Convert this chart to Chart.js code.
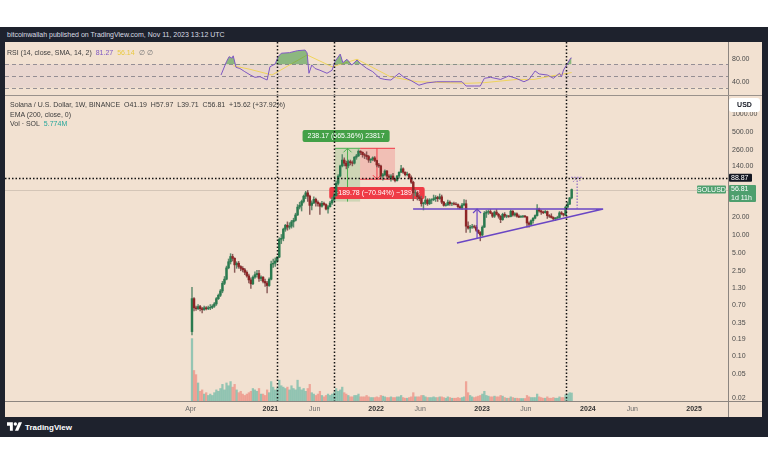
<!DOCTYPE html>
<html>
<head>
<meta charset="utf-8">
<title>SOLUSD 1W</title>
<script src="https://cdn.jsdelivr.net/npm/chart.js@4.4.1/dist/chart.umd.min.js"></script>
<style>
  html, body { margin: 0; padding: 0; background: #ffffff; }
  body { width: 768px; height: 463px; position: relative; overflow: hidden; font-family: "Liberation Sans", Arial, sans-serif; }
  .abs { position: absolute; }
  #frame { left: 0; top: 27px; width: 768px; height: 410px; background: #1e222d; }
  #title { left: 7px; top: 30px; font-size: 7px; line-height: 10px; color: #d9dce3; white-space: nowrap; }
  #panel { left: 5px; top: 42px; width: 757px; height: 375px; background: #f2e1d1; }
  #sep { left: 5px; top: 95px; width: 757px; height: 1px; background: #9a928c; }
  #rsi { left: 5px; top: 42px; }
  #main { left: 5px; top: 96px; }
  .legend { font-size: 7px; line-height: 9px; color: #3c3c3c; white-space: nowrap; }
  #logo { left: 7px; top: 422px; color: #ffffff; font-size: 8px; font-weight: bold; white-space: nowrap; line-height: 10px; }
  #logo svg { vertical-align: -1px; margin-right: 3px; }
</style>
</head>
<body>
<div id="frame" class="abs"></div>
<div id="title" class="abs">bitcoinwallah published on TradingView.com, Nov 11, 2023 13:12 UTC</div>
<div id="panel" class="abs"></div>
<canvas id="rsi" class="abs" width="757" height="53"></canvas>
<div id="sep" class="abs"></div>
<canvas id="main" class="abs" width="757" height="321"></canvas>

<div class="abs legend" style="left:7px;top:48px;">RSI (14, close, SMA, 14, 2)&nbsp; <span style="color:#7e57c2">81.27</span>&nbsp; <span style="color:#e9c940">56.14</span>&nbsp; <span style="color:#777">∅</span>&nbsp;<span style="color:#777">∅</span></div>
<div class="abs legend" style="left:10px;top:100px;">Solana / U.S. Dollar, 1W, BINANCE&nbsp; O41.19&nbsp; H57.97&nbsp; L39.71&nbsp; C56.81&nbsp; +15.62 (+37.92%)</div>
<div class="abs legend" style="left:10px;top:110px;">EMA (200, close, 0)</div>
<div class="abs legend" style="left:10px;top:119px;">Vol · SOL&nbsp; <span style="color:#26a69a">5.774M</span></div>
<div id="logo" class="abs"><svg width="15" height="9" viewBox="0 0 36 20"><path d="M14 20H7V8H0V0h14z" fill="#fff"/><circle cx="20" cy="4" r="4" fill="#fff"/><path d="M28 0h8l-9 20h-8z" fill="#fff"/></svg>TradingView</div>

<script>
// weekly candles, week 0 = 6 Apr 2020, last = 6 Nov 2023
var opens = [
  0.25,0.88,0.62,0.60,0.65,0.60,0.58,0.62,0.60,0.62,0.63,0.66,0.72,0.88,1.00,1.18,1.58,1.85,2.85,3.60,4.40,4.10,3.20,3.40,3.00,2.80,2.65,2.40,2.10,1.80,1.55,2.00,2.20,2.30,1.90,2.00,1.70,1.60,1.45,
  1.85,3.30,3.40,3.70,4.30,8.50,8.80,12.5,14.5,13.5,14.0,16.5,17.5,21.5,29,31,36,44,50,44,31,34,39,35,33,30,33.5,32,27,29.5,34,38,45,72,95,140,175,155,140,165,158,155,195,205,245,235,215,210,200,175,180,190,
  172,145,140,95,100,115,95,90,95,85,80,95,110,125,110,100,102,90,75,50,50,43,40,33,34,38,33,38,38.5,40,42,40,43,35,31,31.5,35,33,33.2,32.5,32,29.5,28,31.5,33,14,13,13.5,13.8,13.5,12,11,
  10,13.5,23,24,24.5,23,20.5,24,22,20.5,18,22,20.5,20.8,20.3,24.8,21.5,22.5,20.5,19.8,20.3,20.6,20,15.8,15,17.3,19,21,27,25,24,23.5,24.5,21,20.5,19.5,18.5,19,19.5,23.3,22.5,21.5,29,32.5,41.19
];
var highs = [
  1.35,0.92,0.66,0.70,0.68,0.63,0.66,0.65,0.66,0.70,0.70,0.76,0.92,1.05,1.25,1.70,2.05,3.05,4.00,4.90,4.80,4.20,3.60,3.65,3.10,3.00,2.80,2.55,2.25,1.95,2.10,2.45,2.60,2.60,2.10,2.05,1.85,1.70,1.95,
  3.70,4.00,4.20,4.40,9.0,10.2,13.0,15.0,16.5,16.0,17.5,19.0,23.0,32,35,38,46,53,55,46,37,43,41,37,34,36,35,33,31,36,42,50,78,100,145,215,190,168,175,175,170,200,218,259,250,240,225,240,210,185,198,200,
  175,155,145,105,120,118,100,100,105,88,98,112,143,130,112,110,104,96,78,56,52,46,44,35,44,40,40,40,46,45,44,48,46,36,33.5,38,37,34.5,35,34.5,33,30.5,33.5,38.5,38,16.5,14.5,15,14.6,14.4,12.2,11.4,
  14.2,24.5,25.5,26,26.5,23.5,25,26.5,23,21,23,23.5,21.5,21,26,25.4,23.5,23.3,21.5,21,21.2,21.2,20.2,16.5,17.8,19.5,21.5,32,28,26,25,25.5,25,21.8,22.5,20,19.6,20.5,24.5,24.5,22.8,30,35,42,57.97
];
var lows = [
  0.22,0.55,0.56,0.58,0.55,0.51,0.56,0.57,0.58,0.58,0.60,0.63,0.68,0.85,0.95,1.10,1.50,1.80,2.75,3.30,3.70,2.40,2.80,2.80,2.55,2.45,2.20,2.00,1.60,1.30,1.50,1.90,2.00,1.70,1.75,1.60,1.40,1.10,1.40,
  1.80,2.90,3.00,3.50,4.20,7.20,8.00,11.5,12.0,12.5,13.0,13.5,17.0,21,27,25,34,40,36,22,26,33,30,30,22,29,31,26,23,29,32,37,44,68,92,135,140,125,130,145,140,150,180,200,215,195,185,180,160,158,170,165,
  135,132,88,81,95,90,84,78,82,76,78,88,108,105,95,95,85,72,37,45,38,37,30,26,32,31,32,33,37,36,36,39,33,30,30,31,31,30.5,31.5,31.5,27.5,27,26.5,30.5,11,12.5,11,12.8,13,11.5,10.5,8.0,
  9.6,13.3,19.5,22,22.5,19.5,19.5,21.5,19,16,17.5,19.5,19.3,19.6,20,20.5,20.5,19.8,19.3,19.5,19.3,19.5,13.5,13.5,14.6,15.7,18.5,20.5,24,22,22.5,23,18.8,19.5,19,17.5,17.3,18.8,19,21.5,20.5,21,28.5,32,39.71
];
var closes = [
  0.88,0.62,0.60,0.65,0.60,0.58,0.62,0.60,0.62,0.63,0.66,0.72,0.88,1.00,1.18,1.58,1.85,2.85,3.60,4.40,4.10,3.20,3.40,3.00,2.80,2.65,2.40,2.10,1.80,1.55,2.00,2.20,2.30,1.90,2.00,1.70,1.60,1.45,1.85,
  3.30,3.40,3.70,4.30,8.50,8.80,12.5,14.5,13.5,14.0,16.5,17.5,21.5,29,31,36,44,50,44,31,34,39,35,33,30,33.5,32,27,29.5,34,38,45,72,95,140,175,155,140,165,158,155,195,205,245,235,215,210,200,175,180,190,172,
  145,140,95,100,115,95,90,95,85,80,95,110,125,110,100,102,90,75,50,50,43,40,33,34,38,33,38,38.5,40,42,40,43,35,31,31.5,35,33,33.2,32.5,32,29.5,28,31.5,33,14,13,13.5,13.8,13.5,12,11,10,
  13.5,23,24,24.5,23,20.5,24,22,20.5,18,22,20.5,20.8,20.3,24.8,21.5,22.5,20.5,19.8,20.3,20.6,20,15.8,15,17.3,19,21,27,25,24,23.5,24.5,21,20.5,19.5,18.5,19,19.5,23.3,22.5,21.5,29,32.5,41.19,56.81
];
// volume, millions of SOL
var volumes = [
  45,22,19,13,7,8,5,6,4,5,4,6,8,7,9,12,8,13,11,14,10,12,8,6,7,5,4,5,6,7,9,8,7,9,5,5,4,8,6,
  14,10,8,9,15,11,10,9,10,8,11,9,8,15,10,8,9,7,9,12,6,5,4,5,7,4,3,4,5,4,5,6,9,7,8,10,6,5,4,3,3,4,4,5,3,3,3,4,3,2.5,2.5,2.5,
  3,2.5,4,3.5,3,2.5,2.5,3,2.5,2.5,3,3,4,2.5,2,2,2.5,3,6,3,3,3,4,4,3,2.5,2.5,2.5,3,2.5,2.5,3,3,2.5,2,3,2.5,2,2,2,2.5,2,2.5,3,14,6,4,3,2.5,3,3.5,4,
  5,7,4,3.5,3,3,3.5,3,3,4,3.5,2.5,2,2,3,2.5,2,2,1.8,1.8,1.8,1.8,4,3,2.5,2.5,2.5,5,3,2.5,2,2,3,2,2,2.5,2,2,3,2.5,2.5,4.5,5,6,5.774
];

// RSI pane (week index, value)
var rsiWeeks = [14.3,17,18.3,19.7,20.3,21.7,23.6,26,28.6,31,33.5,37,38.4,41,42.4,44,48,52,55.7,56.7,57.6,59,60.6,63,66.5,69,70.4,73,74.3,76.3,78.7,81.3,82.8,86,89,92.6,95,98,102,104.4,107.9,111.8,115.7,120.5,127.5,133,135,139,142,144,147,152,156,159.6,163.5,166,169,171,175,178,181,182,183,185,186.5,187];
var rsiValues = [51.7,75,83.6,80.8,85,65,63,57.5,52,47.7,48.8,43,66,71,83.6,89.5,90.5,94,95,90,54.7,69,63,60,54.7,60,75,88,73,79,69,77.8,72,63.4,57.5,46,44,43,54.7,47.7,42,34,38,40,40,40,32.6,32.6,32.6,46,47.7,44,50,46,40,44,58.7,53.5,51.7,46,54.7,48.8,60.4,72,81,81.27];
var smaWeeks = [20.3,28.6,39.4,56.7,69,81.3,97.5,111,135.5,144,160,168.5,177,183,187];
var smaValues = [67.8,61.6,51.7,86.5,66,79,49,40,37.3,38.4,44,44,50,53.5,56];
var rsiTicks = [80, 40];
var rsiLevels = [70, 50, 30];

// axes
var priceTicks = [1000, 500, 260, 140, 20, 10, 5, 2.5, 1.3, 0.7, 0.35, 0.19, 0.1, 0.05, 0.02];
var timeTickWeeks = [-0.7, 38.6, 60.4, 90.7, 112.4, 142.9, 164.4, 195, 216.9, 247.3];
var timeTickLabels = ['Apr', '2021', 'Jun', '2022', 'Jun', '2023', 'Jun', '2024', 'Jun', '2025'];
var markerWeeks = [42, 70, 184.3];
var crossPrice = 88.87;
var lastPrice = 56.81;

// drawings
var gainBox = { from: 70.4, to: 82.8, low: 35.8, high: 274, arrowAt: 76.6 };
var dropBox = { from: 82.8, to: 100, low: 84.2, high: 274, arrowAt: 91.1 };
var gainText = '238.17 (665.36%) 23817';
var dropText = '\u2212189.78 (\u221270.94%) \u221218978';
var gainTextAt = [75.9, 438];
var dropTextAt = [91.1, 49.7];
var resistance = { from: 108.9, to: 202.5, price: 27 };
var support = [[130.5, 7.37], [202.5, 27]];
var heightArrow = { week: 140.4, from: 8.9, to: 27 };
var target = { week: 189.7, from: 27, to: 88.87 };

var xMin = -92.1, xMax = 264;
var FONT = '"Liberation Sans", Arial, sans-serif';
var AXIS_LINE = '#8c8580';
var PURPLE = '#6a46c4';

Chart.defaults.font.family = FONT;
Chart.defaults.font.size = 7;
Chart.defaults.color = '#4a4a4a';

var isUp = closes.map(function (c, i) { return c >= opens[i]; });

function noPad(s) {
  s.paddingTop = 0; s.paddingBottom = 0; s.paddingLeft = 0; s.paddingRight = 0;
}

function dottedLine(ctx, x1, y1, x2, y2, color, width, dash) {
  ctx.save();
  ctx.strokeStyle = color;
  ctx.lineWidth = width;
  ctx.setLineDash(dash);
  ctx.beginPath(); ctx.moveTo(x1, y1); ctx.lineTo(x2, y2); ctx.stroke();
  ctx.restore();
}

function vArrow(ctx, x, y1, y2, color, head) {
  ctx.strokeStyle = color;
  ctx.beginPath(); ctx.moveTo(x, y1); ctx.lineTo(x, y2); ctx.stroke();
  var d = y2 < y1 ? 1 : -1;
  ctx.beginPath();
  ctx.moveTo(x - head, y2 + d * head); ctx.lineTo(x, y2); ctx.lineTo(x + head, y2 + d * head);
  ctx.stroke();
}

function box(ctx, x, y, w, h, r, color) {
  ctx.fillStyle = color;
  ctx.beginPath();
  if (ctx.roundRect) ctx.roundRect(x, y, w, h, r); else ctx.rect(x, y, w, h);
  ctx.fill();
}

function tag(ctx, text, cx, cy, bg) {
  ctx.font = '7px ' + FONT;
  var w = ctx.measureText(text).width + 10;
  box(ctx, cx - w / 2, cy - 6, w, 12, 2, bg);
  ctx.fillStyle = '#ffffff';
  ctx.textAlign = 'center';
  ctx.textBaseline = 'middle';
  ctx.fillText(text, cx, cy + 0.5);
}

var markers = {
  id: 'markers',
  afterDatasetsDraw: function (chart) {
    var a = chart.chartArea, x = chart.scales.x;
    markerWeeks.forEach(function (w) {
      var px = Math.round(x.getPixelForValue(w)) + 0.5;
      dottedLine(chart.ctx, px, a.top, px, a.bottom, '#111111', 1.5, [1.5, 2]);
    });
  }
};

var rsiBand = {
  id: 'rsiBand',
  beforeDatasetsDraw: function (chart) {
    var ctx = chart.ctx, a = chart.chartArea, y = chart.scales.y;
    var top = y.getPixelForValue(rsiLevels[0]), bottom = y.getPixelForValue(rsiLevels[2]);
    ctx.save();
    ctx.fillStyle = 'rgba(126,87,194,0.08)';
    ctx.fillRect(a.left, top, a.right - a.left, bottom - top);
    ctx.restore();
    rsiLevels.forEach(function (v) {
      var py = Math.round(y.getPixelForValue(v)) + 0.5;
      dottedLine(ctx, a.left, py, a.right, py, 'rgba(120,118,128,0.75)', 1, [4, 3]);
    });
  },
  afterDraw: function (chart) {
    var a = chart.chartArea, ctx = chart.ctx;
    ctx.save();
    ctx.strokeStyle = AXIS_LINE;
    ctx.lineWidth = 1;
    ctx.beginPath(); ctx.moveTo(a.right + 0.5, 0); ctx.lineTo(a.right + 0.5, chart.height); ctx.stroke();
    ctx.restore();
  }
};

var drawings = {
  id: 'drawings',
  beforeDatasetsDraw: function (chart) {
    var ctx = chart.ctx, a = chart.chartArea, x = chart.scales.x, y = chart.scales.y;
    ctx.save();
    // last price line
    var ly = Math.round(y.getPixelForValue(lastPrice)) + 0.5;
    ctx.strokeStyle = 'rgba(0,0,0,0.12)';
    ctx.lineWidth = 1;
    ctx.beginPath(); ctx.moveTo(a.left, ly); ctx.lineTo(a.right, ly); ctx.stroke();

    // gain measurement
    var gx1 = x.getPixelForValue(gainBox.from), gx2 = x.getPixelForValue(gainBox.to);
    var gy1 = y.getPixelForValue(gainBox.high), gy2 = y.getPixelForValue(gainBox.low);
    ctx.fillStyle = 'rgba(76,175,80,0.22)';
    ctx.fillRect(gx1, gy1, gx2 - gx1, gy2 - gy1);
    ctx.lineWidth = 1;
    ctx.strokeStyle = '#4caf50';
    ctx.beginPath(); ctx.moveTo(gx1, gy1); ctx.lineTo(gx2, gy1); ctx.stroke();
    vArrow(ctx, x.getPixelForValue(gainBox.arrowAt), gy2, gy1, '#4caf50', 4);

    // drop measurement
    var dx1 = x.getPixelForValue(dropBox.from), dx2 = x.getPixelForValue(dropBox.to);
    var dy1 = y.getPixelForValue(dropBox.high), dy2 = y.getPixelForValue(dropBox.low);
    ctx.fillStyle = 'rgba(242,54,69,0.2)';
    ctx.fillRect(dx1, dy1, dx2 - dx1, dy2 - dy1);
    ctx.strokeStyle = '#f23645';
    ctx.beginPath(); ctx.moveTo(dx1, dy1); ctx.lineTo(dx2, dy1); ctx.moveTo(dx1, dy2); ctx.lineTo(dx2, dy2); ctx.stroke();
    vArrow(ctx, x.getPixelForValue(dropBox.arrowAt), dy1, dy2, '#f23645', 4);

    tag(ctx, gainText, x.getPixelForValue(gainTextAt[0]), y.getPixelForValue(gainTextAt[1]), '#43a047');
    tag(ctx, dropText, x.getPixelForValue(dropTextAt[0]), y.getPixelForValue(dropTextAt[1]), '#ef3b46');
    ctx.restore();
  },
  afterDatasetsDraw: function (chart) {
    var ctx = chart.ctx, a = chart.chartArea, x = chart.scales.x, y = chart.scales.y;
    ctx.save();
    ctx.lineWidth = 1.5;
    ctx.strokeStyle = PURPLE;
    var ry = y.getPixelForValue(resistance.price);
    ctx.beginPath();
    ctx.moveTo(x.getPixelForValue(resistance.from), ry); ctx.lineTo(x.getPixelForValue(resistance.to), ry);
    ctx.moveTo(x.getPixelForValue(support[0][0]), y.getPixelForValue(support[0][1]));
    ctx.lineTo(x.getPixelForValue(support[1][0]), y.getPixelForValue(support[1][1]));
    ctx.stroke();
    ctx.lineWidth = 1.2;
    vArrow(ctx, x.getPixelForValue(heightArrow.week), y.getPixelForValue(heightArrow.from), y.getPixelForValue(heightArrow.to), PURPLE, 4);

    // projected target, dotted
    var tx = x.getPixelForValue(target.week), ty1 = y.getPixelForValue(target.from), ty2 = y.getPixelForValue(target.to);
    dottedLine(ctx, tx, ty1, tx, ty2 + 1, 'rgba(126,87,194,0.85)', 1.2, [1.5, 1.5]);
    dottedLine(ctx, tx - 4, ty2 + 4, tx, ty2, 'rgba(126,87,194,0.85)', 1, [1.5, 1.5]);
    dottedLine(ctx, tx, ty2, tx + 4, ty2 + 4, 'rgba(126,87,194,0.85)', 1, [1.5, 1.5]);
    dottedLine(ctx, tx - 6, ty2 - 0.5, tx + 6, ty2 - 0.5, 'rgba(126,87,194,0.85)', 1, [1.5, 1.5]);

    // crosshair at 88.87
    var cy = Math.round(y.getPixelForValue(crossPrice)) + 0.5;
    dottedLine(ctx, a.left, cy, a.right, cy, '#111111', 1.5, [1.5, 2]);
    ctx.restore();
  },
  afterDraw: function (chart) {
    var ctx = chart.ctx, a = chart.chartArea, y = chart.scales.y;
    ctx.save();
    ctx.strokeStyle = AXIS_LINE;
    ctx.lineWidth = 1;
    ctx.beginPath();
    ctx.moveTo(0, a.bottom + 0.5); ctx.lineTo(chart.width, a.bottom + 0.5);
    ctx.moveTo(a.right + 0.5, 0); ctx.lineTo(a.right + 0.5, chart.height);
    ctx.stroke();

    ctx.font = '7px ' + FONT;
    ctx.textBaseline = 'middle';
    // crosshair price label
    var cy = y.getPixelForValue(crossPrice);
    box(ctx, a.right + 1, cy - 4, 23, 8, 1, '#131722');
    ctx.fillStyle = '#ffffff'; ctx.textAlign = 'left';
    ctx.fillText(crossPrice.toFixed(2), a.right + 3, cy + 0.5);

    // last price label with countdown
    var py = y.getPixelForValue(lastPrice);
    box(ctx, a.right + 1, py - 4.5, 27, 17, 1, '#4e9f6e');
    ctx.fillStyle = '#ffffff';
    ctx.fillText(lastPrice.toFixed(2), a.right + 3, py);
    ctx.fillText('1d 11h', a.right + 3, py + 8.5);
    box(ctx, a.right - 31, py - 4, 29, 8, 1, '#4e9f6e');
    ctx.fillStyle = '#ffffff'; ctx.textAlign = 'center';
    ctx.fillText('SOLUSD', a.right - 16.5, py + 0.5);

    // currency box
    box(ctx, a.right + 1, 2, 31, 14, 3, '#ffffff');
    ctx.fillStyle = '#131722';
    ctx.font = 'bold 7px ' + FONT;
    ctx.fillText('USD', a.right + 16.5, 9.5);
    ctx.restore();
  }
};

new Chart(document.getElementById('rsi'), {
  type: 'line',
  data: {
    datasets: [{
      label: 'RSI',
      data: rsiWeeks.map(function (w, i) { return { x: w, y: rsiValues[i] }; }),
      borderColor: '#7e57c2',
      borderWidth: 1,
      pointRadius: 0,
      fill: { target: { value: 70 }, above: 'rgba(56,150,60,0.55)', below: 'rgba(0,0,0,0)' },
      order: 1
    }, {
      label: 'SMA',
      data: smaWeeks.map(function (w, i) { return { x: w, y: smaValues[i] }; }),
      borderColor: 'rgba(240,210,70,0.85)',
      borderWidth: 1,
      pointRadius: 0,
      fill: false,
      order: 2
    }]
  },
  options: {
    responsive: false,
    animation: false,
    events: [],
    layout: { padding: 0 },
    plugins: { legend: { display: false }, tooltip: { enabled: false } },
    scales: {
      x: { type: 'linear', min: xMin, max: xMax, display: false },
      y: {
        position: 'right', min: 17, max: 109,
        grid: { display: false, drawTicks: false },
        border: { display: false },
        afterFit: function (s) { s.width = 34; noPad(s); },
        afterBuildTicks: function (s) { s.ticks = rsiTicks.map(function (v) { return { value: v }; }); },
        ticks: { padding: 4, callback: function (v) { return Number(v).toFixed(2); } }
      }
    }
  },
  plugins: [rsiBand, markers]
});

new Chart(document.getElementById('main'), {
  type: 'bar',
  data: {
    datasets: [{
      label: 'Vol',
      yAxisID: 'yVol',
      data: volumes.map(function (v, i) { return { x: i, y: v }; }),
      backgroundColor: isUp.map(function (u) { return u ? 'rgba(56,170,150,0.5)' : 'rgba(235,105,95,0.5)'; }),
      barThickness: 1.6,
      grouped: false,
      order: 3
    }, {
      label: 'Wick',
      data: highs.map(function (h, i) { return { x: i, y: [lows[i], h] }; }),
      backgroundColor: isUp.map(function (u) { return u ? '#5c8a6c' : '#8a5a58'; }),
      barThickness: 0.8,
      grouped: false,
      order: 2
    }, {
      label: 'Body',
      data: opens.map(function (o, i) { return { x: i, y: [o, closes[i]] }; }),
      backgroundColor: isUp.map(function (u) { return u ? '#2a7a4f' : '#8e2526'; }),
      barThickness: 1.8,
      grouped: false,
      order: 1
    }]
  },
  options: {
    responsive: false,
    animation: false,
    events: [],
    layout: { padding: 0 },
    plugins: { legend: { display: false }, tooltip: { enabled: false } },
    scales: {
      x: {
        type: 'linear', min: xMin, max: xMax, offset: false,
        grid: { display: false, drawTicks: false },
        border: { display: false },
        afterFit: function (s) { s.height = 16; noPad(s); },
        afterBuildTicks: function (s) { s.ticks = timeTickWeeks.map(function (v) { return { value: v }; }); },
        ticks: {
          autoSkip: false, maxRotation: 0, padding: 4,
          callback: function (v, i) { return timeTickLabels[i]; },
          font: function (c) { return { size: 7, weight: /^\d{4}$/.test(timeTickLabels[c.index]) ? 'bold' : 'normal' }; },
          color: function (c) { return /^\d{4}$/.test(timeTickLabels[c.index]) ? '#333333' : '#6b6b6b'; }
        }
      },
      y: {
        type: 'logarithmic', position: 'right', min: 0.01766, max: 2019,
        grid: { display: false, drawTicks: false },
        border: { display: false },
        afterFit: function (s) { s.width = 34; noPad(s); },
        afterBuildTicks: function (s) { s.ticks = priceTicks.map(function (v) { return { value: v }; }); },
        ticks: { autoSkip: false, padding: 4, callback: function (v) { return Number(v).toFixed(2); } }
      },
      yVol: { type: 'linear', display: false, min: 0, max: 220 }
    }
  },
  plugins: [drawings, markers]
});
</script>
</body>
</html>
